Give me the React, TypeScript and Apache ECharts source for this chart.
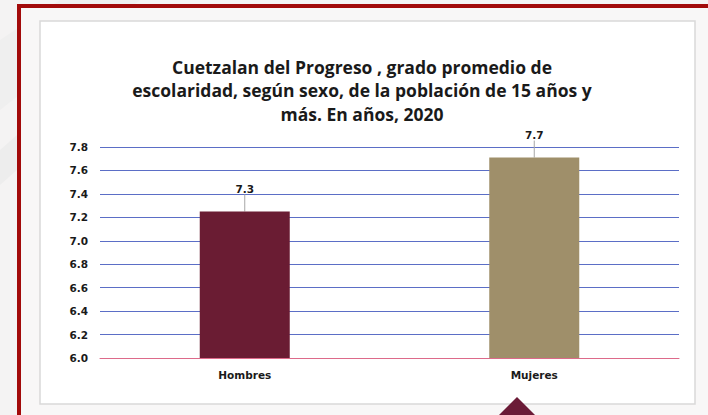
import React, { useEffect, useRef } from "react";
import * as echarts from "echarts";

const categories = ["Hombres", "Mujeres"];
const values = [7.25, 7.71];
const valueLabels = ["7.3", "7.7"];
const barColors = ["#6A1C33", "#9F8F6A"];
const yTicks = { min: 6.0, max: 7.8, interval: 0.2 };
const titleLines = [
  "Cuetzalan del Progreso , grado promedio de",
  "escolaridad, según sexo, de la población de 15 años y",
  "más. En años, 2020",
];

export default function App() {
  const ref = useRef<HTMLDivElement>(null);
  useEffect(() => {
    if (!ref.current) return;
    const chart = echarts.init(ref.current, undefined, { renderer: "svg" });
    chart.setOption({
      animation: false,
      backgroundColor: "#F4F3F3",
      graphic: [
        { type: "polygon", z: -10, shape: { points: [[0, 40], [60, 0], [140, 0], [0, 110]] }, style: { fill: "#EDEDED", opacity: 0.7 } },
        { type: "polygon", z: -10, shape: { points: [[0, 150], [17, 135], [17, 170], [0, 185]] }, style: { fill: "#EDEDED" } },
        { type: "rect", z: -5, shape: { x: 21, y: 8, width: 687, height: 407 }, style: { fill: "#F8F7F7" } },
        { type: "rect", z: -4, shape: { x: 17, y: 4, width: 4, height: 411 }, style: { fill: "#A20A0A" } },
        { type: "rect", z: -4, shape: { x: 17, y: 4, width: 691, height: 4 }, style: { fill: "#A20A0A" } },
        { type: "rect", z: -3, shape: { x: 40, y: 21, width: 655, height: 383 }, style: { fill: "#FFFFFF", stroke: "#D9D9D9", lineWidth: 1.5 } },
        { type: "polygon", z: 100, shape: { points: [[499, 415], [517, 397], [535, 415]] }, style: { fill: "#6B1B37" } },
        {
          type: "text",
          z: 100,
          style: {
            text: titleLines.join("\n"),
            x: 362,
            y: 55,
            textAlign: "center",
            textVerticalAlign: "top",
            lineHeight: 23.5,
            fontFamily: "Open Sans",
            fontWeight: "bold",
            fontSize: 17.5,
            fill: "#1A1A1A",
          },
        },
      ],
      grid: { left: 100, right: 29, top: 147, bottom: 57 },
      xAxis: {
        type: "category",
        data: categories,
        axisLine: { show: true, lineStyle: { color: "#DD6A8A", width: 1 } },
        axisTick: { show: false },
        axisLabel: { margin: 11, fontFamily: "DejaVu Sans", fontWeight: "bold", fontSize: 10.5, color: "#1A1A1A" },
      },
      yAxis: {
        type: "value",
        min: yTicks.min,
        max: yTicks.max,
        interval: yTicks.interval,
        axisLine: { show: false },
        axisTick: { show: false },
        splitLine: { lineStyle: { color: "#5B6EC6", width: 1 } },
        axisLabel: {
          margin: 12,
          fontFamily: "DejaVu Sans",
          fontWeight: "bold",
          fontSize: 10.5,
          color: "#1A1A1A",
          formatter: (v: number) => v.toFixed(1),
        },
      },
      series: [
        {
          type: "bar",
          barWidth: 90,
          data: values.map((v, i) => ({ value: v, itemStyle: { color: barColors[i] } })),
          label: {
            show: true,
            position: "top",
            distance: 4,
            formatter: (p: any) => valueLabels[p.dataIndex],
            fontFamily: "DejaVu Sans",
            fontWeight: "bold",
            fontSize: 10.5,
            color: "#1A1A1A",
          },
          labelLayout: { dy: -13 },
          labelLine: { show: true, lineStyle: { color: "#A6A6A6", width: 1 } },
        },
      ],
    });
    return () => chart.dispose();
  }, []);
  return <div ref={ref} style={{ position: "fixed", left: 0, top: 0, width: 708, height: 415 }} />;
}
